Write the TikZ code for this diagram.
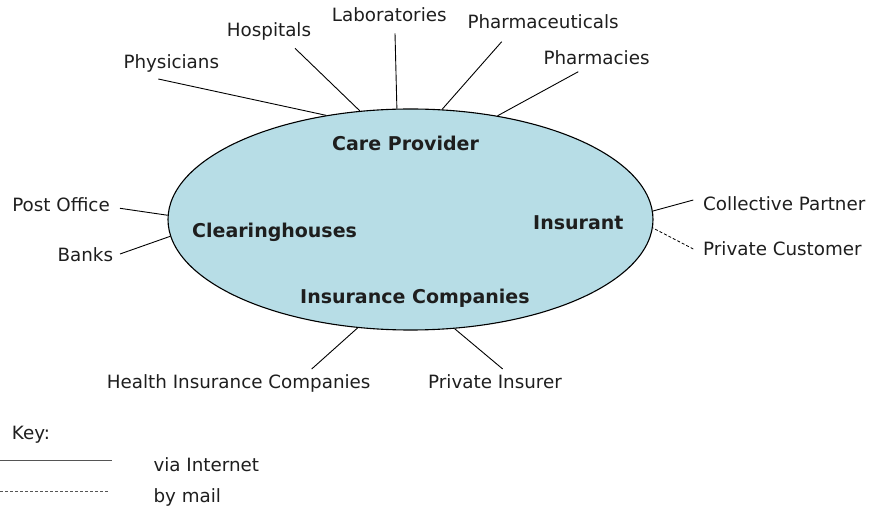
\documentclass[tikz,border=0pt]{standalone}
\usepackage{fontspec}
\setmainfont{DejaVu Sans}
\usetikzlibrary{shapes.geometric}
\definecolor{cellblue}{RGB}{183,221,230}
\definecolor{inkgray}{RGB}{30,30,30}
\definecolor{keygray}{RGB}{85,85,85}

\begin{document}
\begin{tikzpicture}[x=1pt,y=-1pt,
  lbl/.style={inner sep=0pt,text=inkgray,anchor=base west,font=\fontsize{18.3}{20}\selectfont},
  bold/.style={inner sep=0pt,text=inkgray,anchor=base west,font=\fontsize{19}{21}\selectfont\bfseries},
  link/.style={line width=0.9pt},
  post/.style={line width=0.8pt,dash pattern=on 3pt off 2pt}]
\useasboundingbox (0,0) rectangle (876,510);
\node[ellipse,draw,line width=1.1pt,fill=cellblue,minimum width=485pt,minimum height=221pt,inner sep=0pt] (net) at (410.5,219.5) {};
\node[bold] (care) at (332,151) {Care Provider};
\node[bold] (clear) at (192,237.7) {Clearinghouses};
\node[bold] (insurant) at (533,230) {Insurant};
\node[bold] (insco) at (300,304) {Insurance Companies};
\node[lbl] (phys) at (123.3,68.3) {Physicians};
\node[lbl] (hosp) at (226.7,36.7) {Hospitals};
\node[lbl] (labs) at (331.7,21.7) {Laboratories};
\node[lbl] (pharmco) at (467.3,28.3) {Pharmaceuticals};
\node[lbl] (pharm) at (543.3,65) {Pharmacies};
\node[lbl] (coll) at (703,210.7) {Collective Partner};
\node[lbl] (priv) at (703,256) {Private Customer};
\node[lbl,anchor=base east] (post) at (110,211.7) {Post Office};
\node[lbl,anchor=base east] (banks) at (113.3,261.7) {Banks};
\node[lbl] (health) at (106.7,389) {Health Insurance Companies};
\node[lbl] (privins) at (428,389) {Private Insurer};
\coordinate (physend) at (158.3,79);
\coordinate (hospend) at (295,48.3);
\coordinate (labsend) at (395,33.3);
\coordinate (pharmcoend) at (501.7,41.7);
\coordinate (pharmend) at (578.3,71.7);
\coordinate (collend) at (693.3,200);
\coordinate (privend) at (693.3,249);
\coordinate (postend) at (120,208.3);
\coordinate (banksend) at (120,254);
\coordinate (healthend) at (311.7,369);
\coordinate (privinsend) at (502.7,369);
\draw[link] (physend) -- (net.129.6);
\draw[link] (hospend) -- (net.115.8);
\draw[link] (labsend) -- (net.97.9);
\draw[link] (pharmcoend) -- (net.74.7);
\draw[link] (pharmend) -- (net.50.6);
\draw[link] (collend) -- (net.2.6);
\draw[post] (privend) -- (net.-2.6);
\draw[link] (postend) -- (net.179.1);
\draw[link] (banksend) -- (net.184.8);
\draw[link] (healthend) -- (net.244.4);
\draw[link] (privinsend) -- (net.292.6);
\node[lbl] (key) at (11.7,440) {Key:};
\coordinate (webA) at (0,460.7);
\coordinate (webB) at (111.7,460.7);
\coordinate (mailA) at (0,491.7);
\coordinate (mailB) at (108,491.7);
\draw[link,draw=keygray] (webA) -- (webB);
\draw[post,draw=keygray] (mailA) -- (mailB);
\node[lbl] (web) at (153.3,471.7) {via Internet};
\node[lbl] (mail) at (153.3,502.7) {by mail};
\end{tikzpicture}
\end{document}
